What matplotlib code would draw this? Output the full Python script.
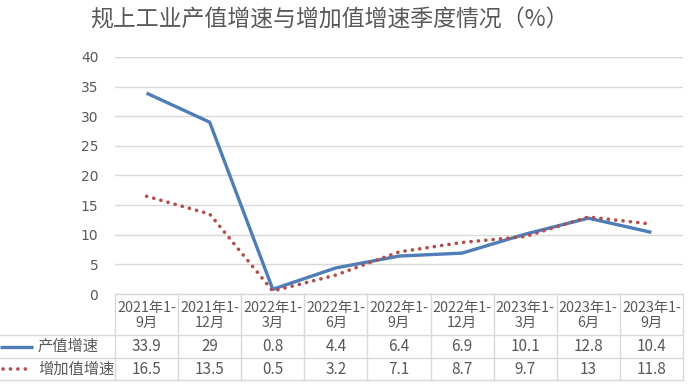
import matplotlib
matplotlib.use("Agg")
import matplotlib.pyplot as plt

plt.rcParams['font.family'] = ['Noto Sans CJK SC', 'DejaVu Sans']

categories = ["2021年1-\n9月", "2021年1-\n12月", "2022年1-\n3月", "2022年1-\n6月", "2022年1-\n9月",
              "2022年1-\n12月", "2023年1-\n3月", "2023年1-\n6月", "2023年1-\n9月"]
output_growth = [33.9, 29, 0.8, 4.4, 6.4, 6.9, 10.1, 12.8, 10.4]
added_growth = [16.5, 13.5, 0.5, 3.2, 7.1, 8.7, 9.7, 13, 11.8]
series_names = ["产值增速", "增加值增速"]
yticks = [0, 5, 10, 15, 20, 25, 30, 35, 40]
title = "规上工业产值增速与增加值增速季度情况（%）"

W, H = 688, 388
fig = plt.figure(figsize=(W / 100, H / 100), dpi=100)
fig.patch.set_facecolor("white")

L, R, T, B = 115, 683, 57, 294
ax = fig.add_axes([L / W, (H - B) / H, (R - L) / W, (B - T) / H])
n = len(categories)
x = list(range(n))
blue = "#4F7DB8"
red = "#B0504D"
grid = "#D9D9D9"
txt = "#595959"

ax.plot(x, output_growth, color=blue, lw=2.4, solid_capstyle="butt", zorder=3)
ax.plot(x, added_growth, color=red, lw=2.6, linestyle=(0, (0.05, 2.0)),
        dash_capstyle="round", zorder=4)
ax.set_xlim(-0.5, n - 0.5)
ax.set_ylim(0, 40)
ax.set_yticks(yticks)
ax.set_yticklabels([str(v) for v in yticks], color=txt, fontsize=10, family="DejaVu Sans")
ax.tick_params(axis="y", length=0, pad=12)
ax.set_xticks([])
for v in yticks:
    ax.axhline(v, color=grid, lw=1, zorder=1)
for s in ax.spines.values():
    s.set_visible(False)
ax.patch.set_alpha(0)

# overlay for table (pixel coords)
ov = fig.add_axes([0, 0, 1, 1])
ov.set_xlim(0, W)
ov.set_ylim(H, 0)
ov.axis("off")
ov.patch.set_alpha(0)

cw = (R - L) / n
r0, r1, r2, r3 = 294, 335, 358, 380
ov.plot([L, R], [r0, r0], color=grid, lw=1)
for yy in (r1, r2, r3):
    ov.plot([0, R], [yy, yy], color=grid, lw=1)
for k in range(n + 1):
    ov.plot([L + k * cw] * 2, [r0, r3], color=grid, lw=1)

for i in range(n):
    cx = L + (i + 0.5) * cw
    ov.text(cx, (r0 + r1) / 2 + 1, categories[i], ha="center", va="center", color=txt,
            fontsize=10.3, linespacing=1.1)
    ov.text(cx, (r1 + r2) / 2, f"{output_growth[i]:g}", ha="center", va="center",
            color=txt, fontsize=11)
    ov.text(cx, (r2 + r3) / 2, f"{added_growth[i]:g}", ha="center", va="center",
            color=txt, fontsize=11)

# legend keys
ov.plot([0, 33], [(r1 + r2) / 2] * 2, color=blue, lw=2.4, solid_capstyle="butt")
ov.plot([3, 30], [(r2 + r3) / 2] * 2, color=red, lw=2.6, linestyle=(0, (0.05, 2.0)),
        dash_capstyle="round")
ov.text(38, (r1 + r2) / 2, series_names[0], ha="left", va="center", color=txt, fontsize=11)
ov.text(38, (r2 + r3) / 2, series_names[1], ha="left", va="center", color=txt, fontsize=11)

fig.text(90 / W, 1 - 20 / H, title, ha="left", va="center", color=txt, fontsize=16.5)

fig.savefig("out.png", dpi=100)
